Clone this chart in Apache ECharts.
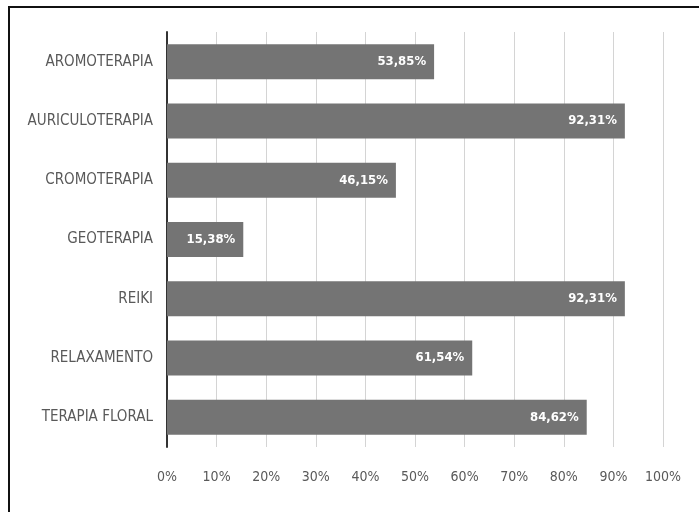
<!DOCTYPE html>
<html>
<head>
<meta charset="utf-8">
<script src="https://cdn.jsdelivr.net/npm/echarts@6/dist/echarts.min.js"></script>
<style>
  html, body { margin: 0; padding: 0; background: #fff; }
  #chart { width: 699px; height: 512px; }
</style>
</head>
<body>
<div id="chart"></div>
<script>
var categories = ['AROMOTERAPIA', 'AURICULOTERAPIA', 'CROMOTERAPIA', 'GEOTERAPIA', 'REIKI', 'RELAXAMENTO', 'TERAPIA FLORAL'];
var values = [53.85, 92.31, 46.15, 15.38, 92.31, 61.54, 84.62];
var tickLabels = ['0%', '10%', '20%', '30%', '40%', '50%', '60%', '70%', '80%', '90%', '100%'];

var narrow = '"Liberation Sans Narrow", "DejaVu Sans Condensed", sans-serif';

var chart = echarts.init(document.getElementById('chart'));

var option = {
    animation: false,
    grid: { left: 167, right: 36, top: 32, bottom: 65 },
    xAxis: {
        type: 'value',
        min: 0,
        max: 100,
        interval: 10,
        axisLine: { show: false },
        axisTick: { show: false },
        splitLine: { lineStyle: { color: '#d4d4d4', width: 1 } },
        axisLabel: {
            margin: 23,
            color: '#595959',
            fontFamily: narrow,
            fontSize: 14,
            formatter: function (v) { return tickLabels[Math.round(v / 10)]; }
        }
    },
    yAxis: {
        type: 'category',
        inverse: true,
        data: categories,
        axisLine: { show: true, lineStyle: { color: '#333', width: 2 } },
        axisTick: { show: false },
        axisLabel: {
            margin: 14,
            color: '#595959',
            fontFamily: narrow,
            fontSize: 15
        }
    },
    graphic: [
        { type: 'line', shape: { x1: 8, y1: 7, x2: 699, y2: 7 }, style: { stroke: '#111', lineWidth: 2 } },
        { type: 'line', shape: { x1: 9, y1: 6, x2: 9, y2: 512 }, style: { stroke: '#111', lineWidth: 2 } }
    ],
    series: [{
        type: 'bar',
        data: values,
        barCategoryGap: '41%',
        itemStyle: { color: '#747474' },
        label: {
            show: true,
            position: 'insideRight',
            distance: 8,
            color: '#fff',
            fontFamily: narrow,
            fontWeight: 'bold',
            fontSize: 13,
            formatter: function (p) { return p.value.toFixed(2).replace('.', ',') + '%'; }
        }
    }]
};

chart.setOption(option);
</script>
</body>
</html>
